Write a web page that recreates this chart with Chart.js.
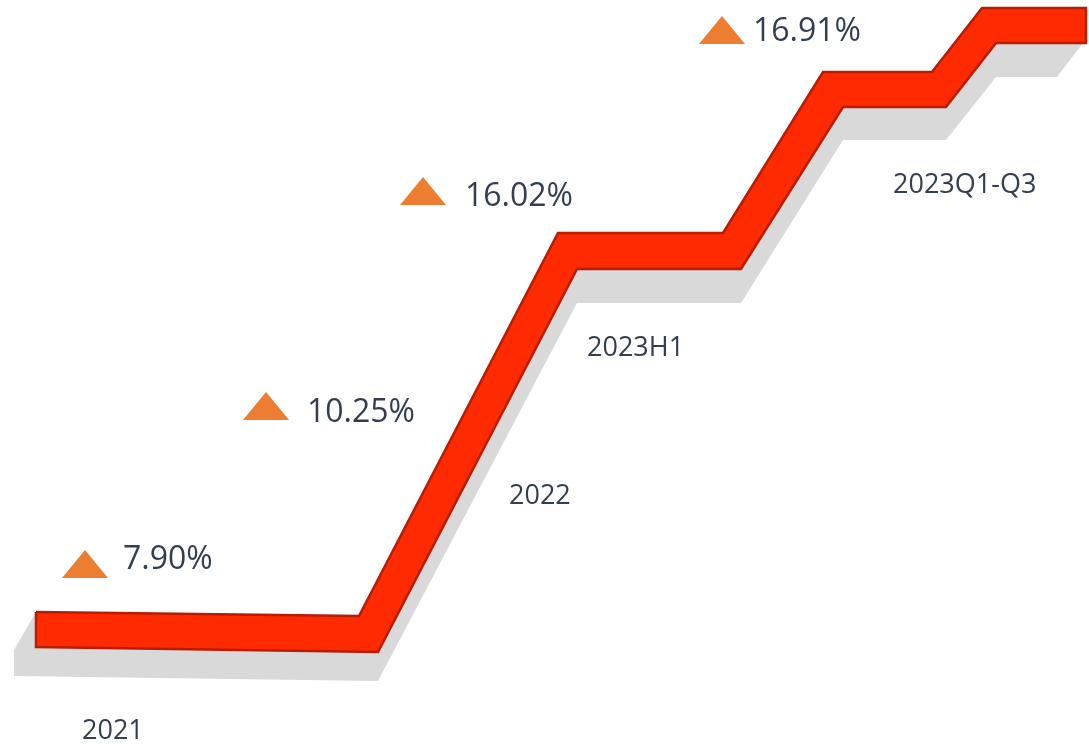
<!DOCTYPE html>
<html>
<head>
<meta charset="utf-8">
<script src="https://cdn.jsdelivr.net/npm/chart.js@4.4.1/dist/chart.umd.min.js"></script>
<style>
    body { margin: 0; background: #ffffff; }
    #wrap { width: 1089px; height: 744px; }
</style>
</head>
<body>
<div id="wrap"><canvas id="grafico"></canvas></div>
<script>
const categories = ["2021", "2022", "2023H1", "2023Q1-Q3"];
const growth = ["7.90%", "10.25%", "16.02%", "16.91%"];

// stepped band (x along the page, y down from the top)
const bandTopX = [36, 359, 558, 723, 823, 932, 982, 1086];
const bandTopY = [612, 616, 233, 233, 72, 72, 8, 8];
const bandBottomX = [36, 378, 577, 741, 843, 946, 996, 1086];
const bandBottomY = [647, 652, 269, 269, 107, 107, 43, 43];

// grey extrusion under the band
const shadowX = [36, 14, 14, 378, 577, 741, 843, 946, 996, 1057, 1083];
const shadowY = [612, 650, 676, 681, 303, 303, 140, 140, 77, 77, 43];

// where each label sits: [x, baseline]
const yearSpots = [[82, 739], [509, 504], [587, 356], [893, 193]];
const growthSpots = [[123, 569], [307, 422], [465, 206], [753, 41]];
const triangleSpots = [[62, 578], [243, 420], [400, 205], [699, 44]];

function bandPolygon() {
    const pts = bandTopX.map((x, i) => ({ x, y: bandTopY[i] }));
    for (let i = bandBottomX.length - 1; i >= 0; i--) {
        pts.push({ x: bandBottomX[i], y: bandBottomY[i] });
    }
    pts.push(pts[0]);
    return pts;
}

function shadowPolygon() {
    const pts = shadowX.map((x, i) => ({ x, y: shadowY[i] }));
    for (let i = bandTopX.length - 1; i >= 0; i--) {
        pts.push({ x: bandTopX[i], y: bandTopY[i] });
    }
    return pts;
}

const labelsPlugin = {
    id: "labels",
    afterDatasetsDraw(chart) {
        const { ctx, scales } = chart;
        const px = v => scales.x.getPixelForValue(v);
        const py = v => scales.y.getPixelForValue(v);

        ctx.save();
        ctx.textAlign = "left";
        ctx.textBaseline = "alphabetic";
        ctx.fillStyle = "#333f50";

        ctx.font = "27px 'Open Sans'";
        categories.forEach((c, i) => {
            ctx.fillText(c, px(yearSpots[i][0]), py(yearSpots[i][1]));
        });

        ctx.font = "32px 'Open Sans'";
        growth.forEach((g, i) => {
            ctx.fillText(g, px(growthSpots[i][0]), py(growthSpots[i][1]));
        });

        ctx.fillStyle = "#ed7d31";
        triangleSpots.forEach(([x, y]) => {
            const left = px(x), bottom = py(y);
            ctx.beginPath();
            ctx.moveTo(left, bottom);
            ctx.lineTo(left + 46, bottom);
            ctx.lineTo(left + 23, bottom - 28);
            ctx.closePath();
            ctx.fill();
        });
        ctx.restore();
    }
};

new Chart(document.getElementById("grafico"), {
    type: "line",
    data: {
        datasets: [
            {
                data: bandPolygon(),
                fill: "shape",
                backgroundColor: "#ff2a00",
                borderColor: "#b81c02",
                borderWidth: 2.5,
                borderJoinStyle: "miter",
                pointRadius: 0,
                tension: 0,
                order: 0
            },
            {
                data: shadowPolygon(),
                fill: "shape",
                backgroundColor: "#d9d9d9",
                borderWidth: 0,
                pointRadius: 0,
                tension: 0,
                order: 1
            }
        ]
    },
    options: {
        responsive: true,
        maintainAspectRatio: false,
        animation: false,
        layout: { padding: 0 },
        scales: {
            x: { type: "linear", min: 0, max: 1089, display: false },
            y: { type: "linear", min: 0, max: 744, reverse: true, display: false }
        },
        plugins: {
            legend: { display: false },
            tooltip: { enabled: false }
        }
    },
    plugins: [labelsPlugin]
});
</script>
</body>
</html>
